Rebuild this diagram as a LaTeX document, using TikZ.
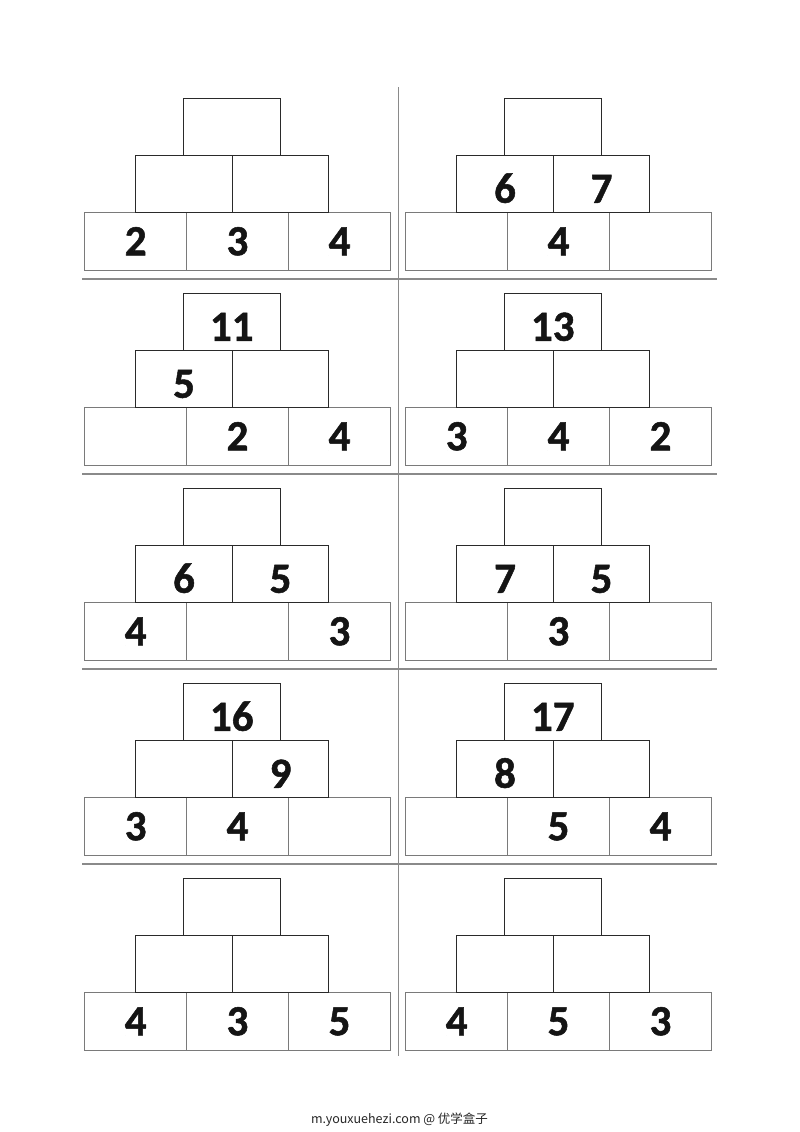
\documentclass[tikz,border=0pt]{standalone}
\usepackage{fontspec}
\setmainfont{Carlito}
\newfontfamily\digitfont{Carlito}[UprightFont={* Bold}, FakeBold=1.2]
\newfontfamily\footfont{Noto Sans CJK SC}
\definecolor{boxdark}{HTML}{2A2A2A}
\definecolor{boxgray}{HTML}{7A7A7A}
\definecolor{sepgray}{HTML}{8A8A8A}
\tikzset{
  cell/.style={rectangle, anchor=north west, inner sep=0pt, outer sep=0pt,
    font=\digitfont\fontsize{43}{43}\selectfont, text=black!92, text depth=0pt},
  uppercell/.style={cell, draw=boxdark, line width=1.2pt, minimum height=57pt, text height=37.5pt},
  lowercell/.style={cell, draw=boxgray, line width=1.1pt, minimum height=58.4pt, text height=27.5pt},
  sepline/.style={draw=sepgray, line width=1.3pt},
}
\newcommand{\pyramid}[9]{%
  \begin{scope}[shift={(#2,#3)}]
    \node[lowercell, minimum width=102pt] (#1bl) at (0,114) {#7};
    \node[lowercell, minimum width=101.6pt] (#1bm) at (102,114) {#8};
    \node[lowercell, minimum width=102.4pt] (#1br) at (203.6,114) {#9};
    \node[uppercell, minimum width=96.6pt] (#1ml) at (51,57.2) {#5};
    \node[uppercell, minimum width=96.4pt] (#1mr) at (147.6,57.2) {#6};
    \node[uppercell, minimum width=97pt] (#1t) at (98.6,0.2) {#4};
  \end{scope}}
\begin{document}
\begin{tikzpicture}[x=1pt,y=-1pt]
  \useasboundingbox[fill=white] (0,0) rectangle (800,1132);
  % dividers
  \coordinate (vtop) at (398.3,87);
  \coordinate (vbot) at (398.3,1056);
  \draw[sepline] (vtop) -- (vbot);
  \foreach \k in {0,1,2,3}{
    \coordinate (sl\k) at (82,279+195*\k);
    \coordinate (sm\k) at (398.3,279+195*\k);
    \coordinate (sr\k) at (716.7,279+195*\k);
    \draw[sepline] (sl\k) -- (sm\k) -- (sr\k);
  }
  % pyramids
  \pyramid{a}{84.7}{98.3}{}{}{}{2}{3}{4}
  \pyramid{b}{405.7}{98.3}{}{6}{7}{}{4}{}
  \pyramid{c}{84.7}{293.3}{11}{5}{}{}{2}{4}
  \pyramid{d}{405.7}{293.3}{13}{}{}{3}{4}{2}
  \pyramid{e}{84.7}{488.3}{}{6}{5}{4}{}{3}
  \pyramid{f}{405.7}{488.3}{}{7}{5}{}{3}{}
  \pyramid{g}{84.7}{683.3}{16}{}{9}{3}{4}{}
  \pyramid{h}{405.7}{683.3}{17}{8}{}{}{5}{4}
  \pyramid{i}{84.7}{878.3}{}{}{}{4}{3}{5}
  \pyramid{j}{405.7}{878.3}{}{}{}{4}{5}{3}
  % footer
  \node[font=\footfont\fontsize{12.5}{14}\selectfont, text=black!85] (foot) at (399.5,1120) {m.youxuehezi.com @ 优学盒子};
\end{tikzpicture}
\end{document}
